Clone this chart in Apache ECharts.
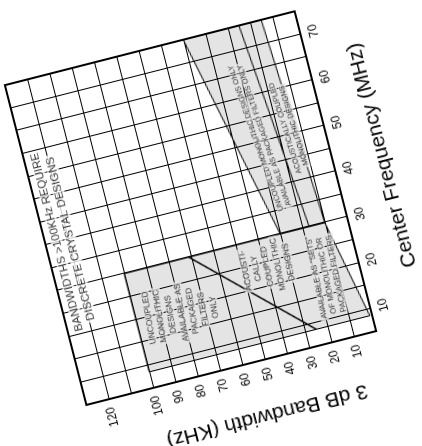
<!DOCTYPE html>
<html><head><meta charset="utf-8">
<script src="https://cdn.jsdelivr.net/npm/echarts/dist/echarts.min.js"></script>
<style>
html,body{margin:0;padding:0;width:422px;height:446px;overflow:hidden;background:#fff;}
#wrap{position:absolute;left:-59px;top:-42px;width:500px;height:500px;transform:rotate(-104.3deg);transform-origin:50% 50%;}
#chart{width:500px;height:500px;}
</style></head><body>
<div id="wrap"><div id="chart"></div></div>
<script>
// axis tick labels
const freqTicks = [10, 20, 30, 40, 50, 60, 70];
const bwTicks = [10, 20, 30, 40, 50, 60, 70, 80, 90, 100, 120];

// shaded regions (center frequency MHz, 3 dB bandwidth kHz)
const lowRegionFreq = [8.5, 30, 30, 8.5];
const lowRegionBw   = [100, 100, 10, 1];
const highBandFreq  = [30, 75, 75, 30];
const highBandBw    = [30, 50, 15, 10];

// divider lines
const lowDividerFreq  = [30, 8.5];
const lowDividerBw    = [71, 25];
const highDividerFreq = [30, 75];
const highDividerBw   = [17, 25];

// annotations
const noteText = [
  ['BANDWIDTHS >100KHz REQUIRE', 'DISCRETE CRYSTAL DESIGNS'],
  ['UNCOUPLED', 'MONOLITHIC', 'DESIGNS', 'AVAILABLE AS', 'PACKAGED', 'FILTERS', 'ONLY'],
  ['ACOUSTI-', 'CALLY', 'COUPLED', 'MONOLITHIC', 'DESIGNS'],
  ['AVAILABLE AS "SETS"', 'OF MONOLITHIC OR', 'PACKAGED FILTERS'],
  ['UNCOUPLED MONOLITHIC DESIGNS ONLY', 'AVAILABLE AS PACKAGED FILTERS ONLY'],
  ['ACOUSTICALLY COUPLED', 'MONOLITHIC DESIGNS']
];
const noteFreq = [40, 19, 24, 19, 51, 51.5];
const noteBw   = [122, 80, 39, 15, 28, 14.5];
const noteSize = [11.5, 8.5, 8.5, 8, 7.5, 7.5];
const noteRot  = [0, -5, -3, -3, 5, 3];

const FILL = '#e4e4e4';
const FONT = '"Liberation Sans", Arial, Helvetica, sans-serif';
const regions = [[lowRegionFreq, lowRegionBw], [highBandFreq, highBandBw]];

const chart = echarts.init(document.getElementById('chart'), null, {renderer: 'canvas'});
chart.setOption({
  animation: false,
  grid: {left: 85, top: 100, width: 330, height: 299, show: true, borderColor: '#000', borderWidth: 2, z: 3, backgroundColor: 'transparent'},
  xAxis: {
    type: 'value', min: 5, max: 75, interval: 5, z: 3,
    axisLine: {lineStyle: {color: '#000', width: 2}},
    axisTick: {show: false},
    splitLine: {show: true, lineStyle: {color: '#000', width: 1}},
    axisLabel: {color: '#000', fontSize: 12, fontFamily: FONT, margin: 8,
      formatter: v => freqTicks.includes(v) ? String(v) : ''},
    name: 'Center Frequency (MHz)', nameLocation: 'middle', nameGap: 39,
    nameTextStyle: {color: '#000', fontSize: 21, fontFamily: FONT, padding: [0, 0, 0, 8]}
  },
  yAxis: {
    type: 'value', min: 0, max: 130, interval: 10, z: 3,
    axisLine: {lineStyle: {color: '#000', width: 2}},
    axisTick: {show: false},
    splitLine: {show: true, lineStyle: {color: '#000', width: 1}},
    axisLabel: {color: '#000', fontSize: 12, fontFamily: FONT, margin: 8,
      formatter: v => bwTicks.includes(v) ? String(v) : ''},
    name: '3 dB Bandwidth (KHz)', nameLocation: 'middle', nameGap: 44,
    nameTextStyle: {color: '#000', fontSize: 21, fontFamily: FONT, padding: [0, 46, 0, 0]}
  },
  series: [
    {
      type: 'custom', z: 1, silent: true,
      encode: {x: 0, y: 1},
      data: regions.map((r, i) => [r[0][0], r[1][0], i]),
      renderItem: (params, api) => {
        const r = regions[api.value(2)];
        const pts = r[0].map((f, k) => api.coord([f, r[1][k]]));
        return {type: 'polygon', shape: {points: pts}, style: {fill: FILL, stroke: '#000', lineWidth: 1}};
      }
    },
    {
      type: 'line', z: 4, silent: true, symbol: 'none',
      lineStyle: {color: '#000', width: 1.5},
      data: lowDividerFreq.map((f, i) => [f, lowDividerBw[i]])
    },
    {
      type: 'line', z: 4, silent: true, symbol: 'none',
      lineStyle: {color: '#000', width: 1},
      data: highDividerFreq.map((f, i) => [f, highDividerBw[i]])
    },
    {
      type: 'scatter', z: 6, silent: true, symbolSize: 0,
      data: noteText.map((lines, i) => ({
        value: [noteFreq[i], noteBw[i]],
        label: {
          show: true, position: 'inside', rotate: noteRot[i], align: 'center', verticalAlign: 'middle',
          formatter: lines.map(s => '{t|' + s + '}').join('\n'),
          rich: {t: {fontSize: noteSize[i], fontFamily: FONT, color: '#000',
            lineHeight: Math.round(noteSize[i] * 1.25),
            backgroundColor: i === 0 ? '#fff' : FILL, padding: [0, 2]}}
        }
      }))
    }
  ]
});
</script></body></html>
